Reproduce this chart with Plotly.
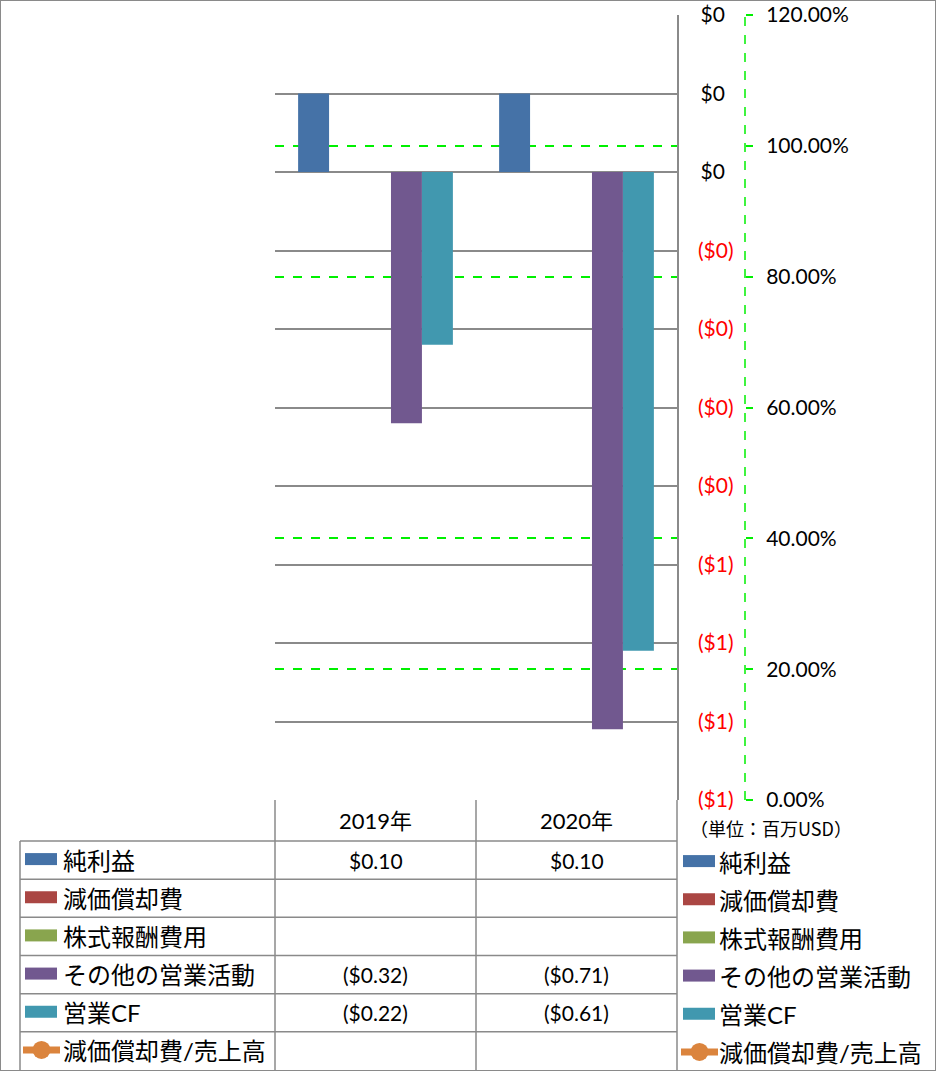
import plotly.graph_objects as go
import math

# ---------------- data ----------------
categories = ["2019年", "2020年"]
series_names = ["純利益", "減価償却費", "株式報酬費用", "その他の営業活動", "営業CF"]
net_income = [0.10, 0.10]
depreciation = [None, None]
stock_comp = [None, None]
other_ops = [-0.32, -0.71]
operating_cf = [-0.22, -0.61]
ratio_name = "減価償却費/売上高"
dep_to_sales = [None, None]
unit_note = "（単位：百万USD）"

bar_values = [net_income, depreciation, stock_comp, other_ops, operating_cf]
colors = ["#4572A7", "#AA4643", "#89A54E", "#71588F", "#4198AF"]
line_color = "#DB843D"

# ---------------- geometry helpers ----------------
W, H = 936, 1071
def px(x):
    return x / W
def py(y):
    return 1 - y / H

FONT = "Lato, 'Noto Sans CJK JP', sans-serif"
GRID = "#8A8A8A"
GREEN = "#00F000"

def fmt_money(v):
    if v is None:
        return ""
    if v >= 0:
        return f"${v:.2f}"
    return f"(${-v:.2f})"

def fmt_tick(v):
    n = int(math.floor(abs(v) + 0.5))
    if v < -1e-9:
        return f'<span style="color:#FF0000">(${n})</span>'
    return f"\u2009${n}"

fig = go.Figure()

for name, vals, col in zip(series_names, bar_values, colors):
    fig.add_trace(go.Bar(
        x=categories, y=[0 if v is None else v for v in vals], name=name,
        marker=dict(color=col, line=dict(width=0)),
        yaxis="y2", hoverinfo="skip", showlegend=False,
    ))

fig.add_trace(go.Scatter(
    x=categories, y=dep_to_sales, name=ratio_name, mode="lines+markers",
    line=dict(color=line_color, width=4), marker=dict(size=10, color=line_color),
    yaxis="y", showlegend=False, hoverinfo="skip",
))

dollar_ticks = [round(0.2 - 0.1 * i, 1) for i in range(11)]
pct_ticks = [round(0.2 * i, 1) for i in range(7)]

x_dom = [px(275), px(677)]
y_dom = [py(800), py(15)]

fig.update_layout(
    width=W, height=H,
    margin=dict(l=0, r=0, t=0, b=0, autoexpand=False),
    paper_bgcolor="white", plot_bgcolor="white",
    barmode="group", bargap=0.23, bargroupgap=0,
    showlegend=False,
    font=dict(family=FONT, size=21, color="black"),
    xaxis=dict(domain=x_dom, range=[-0.5, 1.5], showticklabels=False,
               showgrid=False, zeroline=False, showline=False, ticks="",
               anchor="y2", automargin=False),
    yaxis=dict(domain=y_dom, range=[0, 1.2], anchor="free", position=px(745),
               side="right", tickvals=pct_ticks, tickformat=".2%",
               showgrid=True, gridcolor=GREEN, griddash="dash", gridwidth=1.5,
               zeroline=False, showline=False, automargin=False,
               ticks="outside", ticklen=7, tickcolor=GREEN, tickwidth=1.5,
               ticklabelstandoff=9,
               tickfont=dict(family=FONT, size=21, color="black")),
    yaxis2=dict(domain=y_dom, range=[-0.8, 0.2], overlaying="y", anchor="x",
                side="right", tickvals=dollar_ticks,
                ticktext=[fmt_tick(v) for v in dollar_ticks],
                showgrid=True, gridcolor=GRID, gridwidth=1.5,
                zeroline=True, zerolinecolor=GRID, zerolinewidth=1.5,
                showline=True, linecolor=GRID, linewidth=1.5, automargin=False,
                ticks="", ticklabelstandoff=15,
                tickfont=dict(family=FONT, size=21, color="black")),
)

shapes = []
# green dashed secondary axis line
shapes.append(dict(type="line", xref="paper", yref="y", x0=px(745), x1=px(745),
                   y0=0, y1=1.2, line=dict(color=GREEN, width=1.5, dash="dash")))

# data table grid
row_top = 841
row_h = (1070 - 841) / 6
line_style = dict(color=GRID, width=1.5)
for k in range(6):
    yk = row_top + row_h * k
    shapes.append(dict(type="line", xref="paper", yref="paper",
                       x0=px(20), x1=px(677), y0=py(yk), y1=py(yk), line=line_style))
shapes.append(dict(type="line", xref="paper", yref="paper", x0=px(20), x1=px(20),
                   y0=py(841), y1=py(1070), line=line_style))
for xv in (275, 476, 677):
    shapes.append(dict(type="line", xref="paper", yref="paper", x0=px(xv), x1=px(xv),
                       y0=py(800), y1=py(1070), line=line_style))
# outer border
shapes.append(dict(type="rect", xref="paper", yref="paper", x0=0, x1=1, y0=0, y1=1,
                   line=dict(color=GRID, width=2)))

annotations = []
# header
for c in categories:
    annotations.append(dict(x=c, xref="x", y=py(820.5), yref="paper", text=c,
                            showarrow=False, xanchor="center", yanchor="middle",
                            font=dict(family=FONT, size=22, color="black")))

all_names = series_names + [ratio_name]
all_vals = bar_values + [dep_to_sales]
all_cols = colors + [line_color]

for i, (name, vals, col) in enumerate(zip(all_names, all_vals, all_cols)):
    yc = row_top + row_h * (i + 0.5)
    if i < len(series_names):
        shapes.append(dict(type="rect", xref="paper", yref="paper",
                           x0=px(25), x1=px(57), y0=py(yc + 5), y1=py(yc - 7),
                           fillcolor=col, line=dict(width=0)))
        shapes.append(dict(type="rect", xref="paper", yref="paper",
                           x0=px(683), x1=px(715), y0=py(yc + 7), y1=py(yc - 5),
                           fillcolor=col, line=dict(width=0)))
    else:
        for (a, b, off) in ((23, 60, -1), (681, 718, 1)):
            shapes.append(dict(type="line", xref="paper", yref="paper",
                               x0=px(a), x1=px(b), y0=py(yc + off), y1=py(yc + off),
                               line=dict(color=col, width=7)))
            cx = (a + b) / 2
            shapes.append(dict(type="circle", xref="paper", yref="paper",
                               x0=px(cx - 9), x1=px(cx + 9),
                               y0=py(yc + off + 9), y1=py(yc + off - 9),
                               fillcolor=col, line=dict(width=0)))
    annotations.append(dict(x=px(61), xref="paper", y=py(yc), yref="paper", text=name,
                            showarrow=False, xanchor="left", yanchor="middle",
                            font=dict(family=FONT, size=24, color="black")))
    annotations.append(dict(x=px(717), xref="paper", y=py(yc + 2), yref="paper", text=name,
                            showarrow=False, xanchor="left", yanchor="middle",
                            font=dict(family=FONT, size=24, color="black")))
    for c, v in zip(categories, vals):
        t = fmt_money(v)
        if t:
            annotations.append(dict(x=c, xref="x", y=py(yc), yref="paper", text=t,
                                    showarrow=False, xanchor="center", yanchor="middle",
                                    font=dict(family=FONT, size=21, color="black")))

annotations.append(dict(x=px(688), xref="paper", y=py(828), yref="paper", text=unit_note,
                        showarrow=False, xanchor="left", yanchor="middle",
                        font=dict(family="'Noto Sans CJK JP', sans-serif", size=18, color="black")))

fig.update_layout(shapes=shapes, annotations=annotations)
post = ("document.body.style.margin='0';document.body.style.overflow='hidden';"
        "document.documentElement.style.overflow='hidden';")
fig.write_html("out.html", config={"displayModeBar": False}, post_script=post)
